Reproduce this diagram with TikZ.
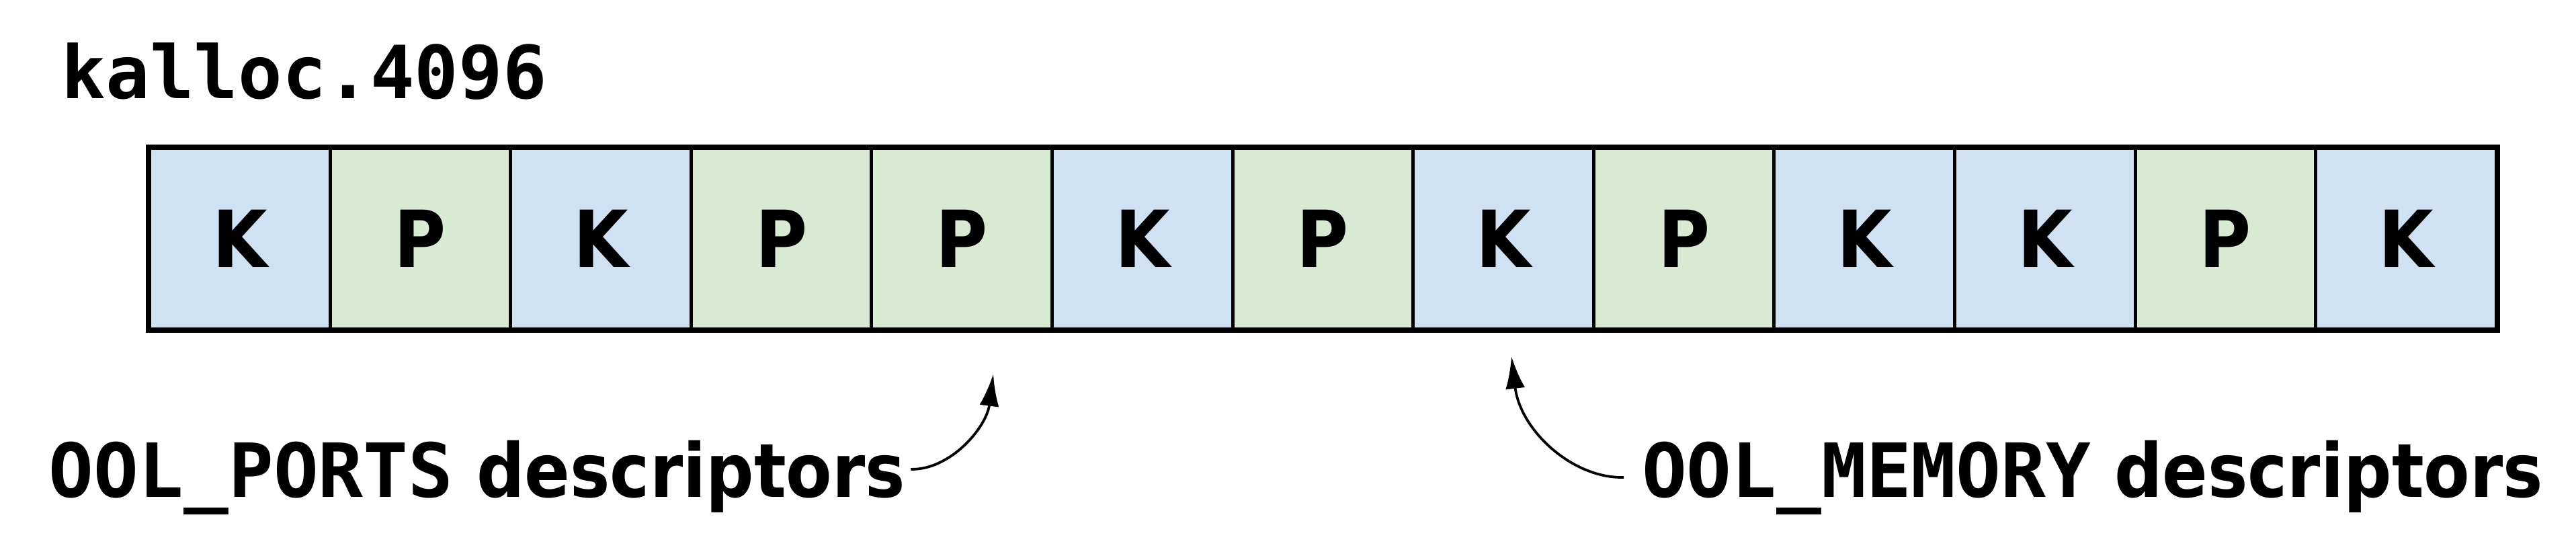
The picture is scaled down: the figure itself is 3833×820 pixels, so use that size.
\documentclass[tikz,border=0pt]{standalone}
\usepackage{fontspec}
\usetikzlibrary{arrows.meta}
\newfontfamily\monob{DejaVu Sans Mono}
\newfontfamily\sansc[FakeStretch=0.9]{DejaVu Sans}
\definecolor{kblue}{HTML}{CFE2F3}
\definecolor{pgreen}{HTML}{D9EAD3}
\tikzset{
  cellbase/.style={draw=black, line width=0.5pt, minimum width=26.86pt, minimum height=26.9pt,
    inner sep=0pt, anchor=north west, font=\sansc\bfseries\fontsize{11.7}{14}\selectfont},
  lbl/.style={anchor=base west, inner sep=0pt, font=\sansc\bfseries\fontsize{11.1}{13}\selectfont},
  arr/.style={line width=0.38pt, -{Latex[length=4.8pt,width=2.9pt]}}
}
\begin{document}
\begin{tikzpicture}[x=0.1pt,y=0.1pt]
\useasboundingbox (0,0) rectangle (3833,-820);
\fill[white] (0,0) rectangle (3833,-820);
\node[anchor=base west, inner sep=0pt, font=\monob\bfseries\fontsize{10.9}{13}\selectfont] (title) at (90,-146) {kalloc.4096};
\foreach \t/\c [count=\i from 0] in {K/kblue,P/pgreen,K/kblue,P/pgreen,P/pgreen,K/kblue,P/pgreen,K/kblue,P/pgreen,K/kblue,K/kblue,P/pgreen,K/kblue}{
  \node[cellbase, fill=\c] (c\i) at ({220+\i*268.6},-218) {\t};
}
\draw[line width=0.65pt] (c0.north west) rectangle (c12.south east);
\node[lbl] (ports) at (71,-739) {{\monob OOL\_PORTS} descriptors};
\node[lbl] (mem) at (2441,-739) {{\monob OOL\_MEMORY} descriptors};
\coordinate (tipL) at (1478,-556);
\coordinate (tipR) at (2249,-530);
\draw[arr] ([shift={(6,12)}]ports.east) .. controls (1415,-699) and (1468,-635) .. (tipL);
\draw[arr] ([shift={(-25,0)}]mem.west) .. controls (2340,-712) and (2262,-640) .. (tipR);
\end{tikzpicture}
\end{document}
